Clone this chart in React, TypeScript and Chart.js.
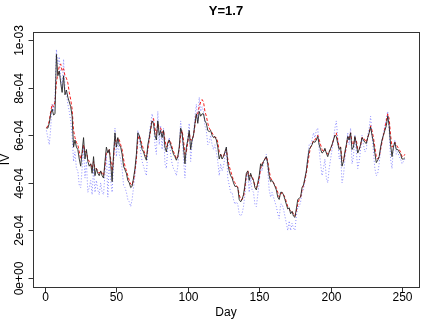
import React, { useEffect, useRef } from "react";
import { Chart, registerables } from "chart.js";
Chart.register(...registerables);

// Values in units of 1e-4 (IV)
const BLACK = [
  6.3, 6.3, 6.5, 6.9, 7.1, 6.85, 6.9, 9.4, 8.5, 8.7,
  8.2, 7.8, 8.5, 7.7, 7.9, 7.6, 7.4, 7.2, 6.8, 5.5,
  5.8, 5.5, 5.4, 5.0, 4.7, 5.3, 5.9, 5.0, 5.4, 4.9,
  4.7, 4.8, 4.4, 5.1, 4.3, 4.6, 4.4, 4.3, 4.5, 4.3,
  4.2, 4.9, 5.5, 5.25, 5.4, 4.8, 4.05, 5.2, 6.1, 5.5,
  5.9, 5.6, 5.5, 5.2, 4.7, 4.55, 4.4, 4.1, 4.0, 3.8,
  3.85, 4.2, 4.6, 5.2, 6.1, 6.0, 5.7, 5.4, 5.3, 5.1,
  4.95, 5.6, 5.9, 6.3, 6.6, 6.5, 6.0, 5.8, 6.6, 6.0,
  6.2, 5.9, 6.2, 5.5, 5.3, 5.7, 5.8, 5.6, 5.4, 5.2,
  5.1, 4.95, 5.1, 5.5, 6.3, 6.1, 5.5, 4.8, 5.5, 5.8,
  6.2, 5.4, 5.8, 6.0, 6.5, 6.9, 6.5, 7.0, 6.8, 6.9,
  6.9, 6.6, 6.5, 6.2, 6.15, 6.2, 6.0, 5.9, 5.95, 5.8,
  5.5, 5.0, 5.2, 5.0, 5.1, 5.3, 5.5, 4.8, 4.5, 4.3,
  4.2, 4.0, 3.85, 3.85, 3.8, 3.3, 3.2, 3.3, 3.5, 3.9,
  4.4, 4.5, 4.1, 4.4, 4.2, 4.1, 3.8, 3.7, 4.0, 4.3,
  4.8, 4.7, 4.9, 5.0, 5.1, 4.8, 4.3, 4.05, 4.1, 4.0,
  3.85, 3.7, 3.4, 3.3, 3.6, 3.6, 3.5, 3.3, 3.1, 2.9,
  2.95, 2.7, 2.8, 2.6, 2.55, 2.9, 3.3, 3.35, 3.4, 3.8,
  3.9, 4.2, 4.5, 5.0, 5.4, 5.5, 5.6, 5.75, 5.7, 5.8,
  5.95, 5.6, 5.4, 5.25, 5.3, 5.45, 5.25, 5.1, 5.3, 5.45,
  5.6, 5.8, 6.0, 5.95, 5.65, 5.4, 5.5, 4.7, 4.9, 5.3,
  5.6, 5.95, 5.8, 6.1, 5.4, 5.5, 5.95, 5.65, 5.25, 5.4,
  5.6, 5.9, 5.8, 5.7, 5.65, 5.9, 6.1, 6.35, 6.0, 5.7,
  5.25, 4.85, 4.95, 5.1, 5.5, 5.8, 6.0, 6.2, 6.4, 6.8,
  6.4, 5.6, 5.1, 5.5, 5.7, 5.4, 5.4, 5.3, 5.2, 5.0,
  5.0, 5.05,
];

const RED = [
  6.3, 6.4, 6.6, 7.0, 7.3, 7.2, 7.4, 8.2, 8.6, 8.9,
  9.0, 8.7, 8.8, 8.5, 8.4, 8.2, 7.8, 7.5, 7.1, 6.2,
  5.9, 5.7, 5.6, 5.3, 5.0, 5.2, 5.6, 5.3, 5.3, 5.0,
  4.9, 4.8, 4.6, 4.9, 4.6, 4.6, 4.5, 4.4, 4.5, 4.4,
  4.3, 4.7, 5.3, 5.3, 5.4, 5.0, 4.5, 5.0, 5.8, 5.7,
  5.9, 5.8, 5.6, 5.4, 5.0, 4.7, 4.5, 4.3, 4.1, 3.95,
  3.9, 4.1, 4.5, 5.0, 5.8, 6.0, 5.8, 5.6, 5.4, 5.2,
  5.1, 5.4, 5.8, 6.2, 6.6, 6.7, 6.3, 6.0, 6.5, 6.3,
  6.3, 6.1, 6.2, 5.8, 5.5, 5.6, 5.8, 5.7, 5.5, 5.3,
  5.2, 5.0, 5.1, 5.4, 6.0, 6.2, 5.8, 5.2, 5.3, 5.7,
  6.1, 5.8, 5.8, 6.0, 6.4, 6.9, 6.9, 7.2, 7.4, 7.5,
  7.4, 7.0, 6.8, 6.5, 6.3, 6.2, 6.1, 6.0, 5.9, 5.9,
  5.7, 5.3, 5.2, 5.1, 5.1, 5.3, 5.4, 5.0, 4.7, 4.5,
  4.3, 4.1, 4.0, 3.9, 3.8, 3.5, 3.3, 3.3, 3.4, 3.8,
  4.3, 4.5, 4.3, 4.3, 4.3, 4.1, 3.9, 3.8, 3.9, 4.2,
  4.6, 4.8, 4.9, 5.0, 5.1, 4.9, 4.5, 4.2, 4.1, 4.0,
  3.9, 3.8, 3.6, 3.4, 3.5, 3.6, 3.5, 3.4, 3.2, 3.0,
  2.9, 2.8, 2.8, 2.7, 2.6, 2.8, 3.1, 3.3, 3.4, 3.7,
  3.9, 4.1, 4.4, 4.8, 5.2, 5.5, 5.6, 5.8, 5.8, 5.9,
  6.0, 5.8, 5.6, 5.4, 5.3, 5.4, 5.3, 5.2, 5.3, 5.4,
  5.6, 5.8, 6.0, 6.1, 5.8, 5.5, 5.5, 5.0, 4.9, 5.2,
  5.5, 5.9, 5.9, 6.1, 5.7, 5.6, 5.9, 5.8, 5.4, 5.4,
  5.6, 5.9, 5.9, 5.8, 5.7, 5.9, 6.1, 6.4, 6.2, 5.9,
  5.5, 5.1, 5.0, 5.1, 5.4, 5.7, 6.0, 6.3, 6.6, 6.9,
  6.7, 6.0, 5.5, 5.6, 5.7, 5.6, 5.5, 5.4, 5.3, 5.1,
  5.1, 5.2,
];

const BLUE = [
  6.2, 5.9, 5.6, 6.3, 7.3, 7.0, 7.6, 9.6, 9.0, 9.3,
  8.4, 8.0, 9.2, 8.0, 7.8, 7.3, 7.0, 6.6, 6.0, 4.9,
  5.3, 4.6, 4.5, 3.9, 3.8, 4.6, 5.5, 4.2, 4.9, 3.6,
  3.8, 4.1, 3.5, 4.6, 3.6, 4.1, 3.7, 3.5, 4.0, 3.6,
  3.5, 4.4, 5.2, 3.4, 4.9, 4.1, 3.6, 4.8, 6.3, 5.1,
  5.8, 5.2, 5.0, 4.6, 3.9, 3.8, 3.6, 3.3, 3.2, 3.0,
  3.3, 3.8, 4.3, 5.0, 6.2, 5.9, 5.3, 4.9, 4.7, 4.5,
  4.3, 5.4, 6.0, 6.5, 6.9, 6.6, 5.6, 5.2, 7.0, 5.6,
  6.4, 5.4, 6.3, 4.8, 4.6, 5.5, 5.9, 5.2, 4.8, 4.6,
  4.5, 4.3, 4.7, 5.5, 6.6, 6.0, 5.0, 4.2, 5.3, 5.9,
  6.5, 4.9, 5.7, 6.0, 6.8, 7.3, 6.6, 7.6, 7.0, 7.2,
  7.0, 6.4, 6.2, 5.6, 5.7, 6.0, 5.6, 5.4, 5.6, 5.3,
  4.9, 4.3, 4.8, 4.5, 4.7, 5.1, 5.5, 4.2, 3.9, 3.6,
  3.6, 3.3, 3.1, 3.2, 3.1, 2.7, 2.6, 2.7, 3.0, 3.5,
  4.2, 4.4, 3.6, 4.2, 3.7, 3.6, 3.1, 3.0, 3.5, 4.0,
  4.7, 4.5, 4.8, 5.0, 5.2, 4.5, 3.7, 3.4, 3.6, 3.4,
  3.2, 3.0, 2.7, 2.5, 3.1, 3.1, 2.9, 2.6, 2.3, 2.0,
  2.4, 2.0, 2.3, 2.1, 2.0, 2.6, 3.0, 3.0, 3.2, 3.6,
  3.7, 4.1, 4.5, 5.1, 5.6, 5.6, 5.8, 6.1, 5.9, 6.2,
  6.3, 5.4, 4.8, 4.3, 4.6, 5.0, 4.2, 4.0, 4.6, 5.0,
  5.4, 5.8, 6.3, 6.6, 5.9, 5.0, 5.2, 4.0, 4.3, 5.0,
  5.5, 6.1, 5.6, 6.3, 4.8, 5.1, 6.0, 5.3, 4.6, 4.9,
  5.4, 6.0, 5.6, 5.3, 5.4, 6.0, 6.3, 6.8, 6.0, 5.3,
  4.6, 4.3, 4.4, 4.8, 5.4, 5.8, 6.1, 6.4, 6.7, 7.0,
  6.2, 5.0, 4.6, 5.5, 5.8, 5.2, 5.3, 5.1, 5.0, 4.8,
  4.9, 5.0,
];

const X_TICKS = [0, 50, 100, 150, 200, 250];
const Y_TICKS = [0, 2, 4, 6, 8, 10];
const Y_TICK_LABELS = ["0e+00", "2e-04", "4e-04", "6e-04", "8e-04", "1e-03"];
const TITLE = "Y=1.7";
const X_TITLE = "Day";
const Y_TITLE = "IV";

const FONT = "'Liberation Sans', Arial, Helvetica, sans-serif";

const toPoints = (arr: number[]) => arr.map((v, i) => ({ x: i + 1, y: v }));

const rAxes = {
  id: "rAxes",
  beforeDraw(chart: any) {
    const ctx = chart.ctx;
    ctx.save();
    ctx.fillStyle = "#ffffff";
    ctx.fillRect(0, 0, chart.width, chart.height);
    ctx.restore();
  },
  afterDatasetsDraw(chart: any) {
    const { ctx, chartArea, scales } = chart;
    const { left, top, right, bottom } = chartArea;
    const xs = scales.x;
    const ys = scales.y;
    ctx.save();
    ctx.strokeStyle = "#333";
    ctx.lineWidth = 1;
    ctx.strokeRect(Math.round(left) + 0.5, Math.round(top) + 0.5, Math.round(right - left), Math.round(bottom - top));

    ctx.fillStyle = "#000";
    ctx.font = `12px ${FONT}`;
    ctx.textAlign = "center";
    ctx.textBaseline = "middle";
    X_TICKS.forEach((t) => {
      const px = Math.round(xs.getPixelForValue(t)) + 0.5;
      ctx.beginPath();
      ctx.moveTo(px, Math.round(bottom) + 0.5);
      ctx.lineTo(px, Math.round(bottom) + 5.5);
      ctx.stroke();
      ctx.fillText(String(t), px, bottom + 11);
    });
    Y_TICKS.forEach((t, i) => {
      const py = Math.round(ys.getPixelForValue(t)) + 0.5;
      ctx.beginPath();
      ctx.moveTo(Math.round(left) + 0.5, py);
      ctx.lineTo(Math.round(left) - 4.5, py);
      ctx.stroke();
      ctx.save();
      ctx.translate(left - 13, py);
      ctx.rotate(-Math.PI / 2);
      ctx.fillText(Y_TICK_LABELS[i], 0, 0);
      ctx.restore();
    });
    const cx = (left + right) / 2;
    ctx.fillText(X_TITLE, cx, 313);
    ctx.save();
    ctx.translate(6, (top + bottom) / 2);
    ctx.rotate(-Math.PI / 2);
    ctx.fillText(Y_TITLE, 0, 0);
    ctx.restore();
    ctx.font = `bold 13px ${FONT}`;
    ctx.fillText(TITLE, cx, 11);
    ctx.restore();
  },
};

export default function App() {
  const ref = useRef<HTMLCanvasElement | null>(null);
  useEffect(() => {
    if (!ref.current) return;
    const chart = new Chart(ref.current, {
      type: "line",
      data: {
        datasets: [
          {
            label: "black",
            data: toPoints(BLACK),
            borderColor: "#262626",
            borderWidth: 0.9,
            pointRadius: 0,
            tension: 0,
            order: 0,
          },
          {
            label: "red",
            data: toPoints(RED),
            borderColor: "rgb(245,30,30)",
            borderWidth: 1,
            borderDash: [3, 2],
            pointRadius: 0,
            tension: 0,
            order: 1,
          },
          {
            label: "blue",
            data: toPoints(BLUE),
            borderColor: "rgb(140,140,255)",
            borderWidth: 1,
            borderDash: [1, 2],
            pointRadius: 0,
            tension: 0,
            order: 2,
          },
        ],
      },
      options: {
        animation: false,
        responsive: false,
        devicePixelRatio: 1,
        layout: { padding: { left: 33, right: 17, top: 32, bottom: 40 } },
        plugins: { legend: { display: false }, tooltip: { enabled: false }, title: { display: false } },
        scales: {
          x: { type: "linear", min: -8.4, max: 261.9, display: false },
          y: { type: "linear", min: -0.38, max: 10.34, display: false },
        },
      },
      plugins: [rAxes],
    });
    return () => chart.destroy();
  }, []);
  return (
    <div style={{ position: "absolute", left: 0, top: 0, width: 436, height: 327, background: "#fff" }}>
      <canvas ref={ref} width={436} height={327} style={{ display: "block" }} />
    </div>
  );
}
